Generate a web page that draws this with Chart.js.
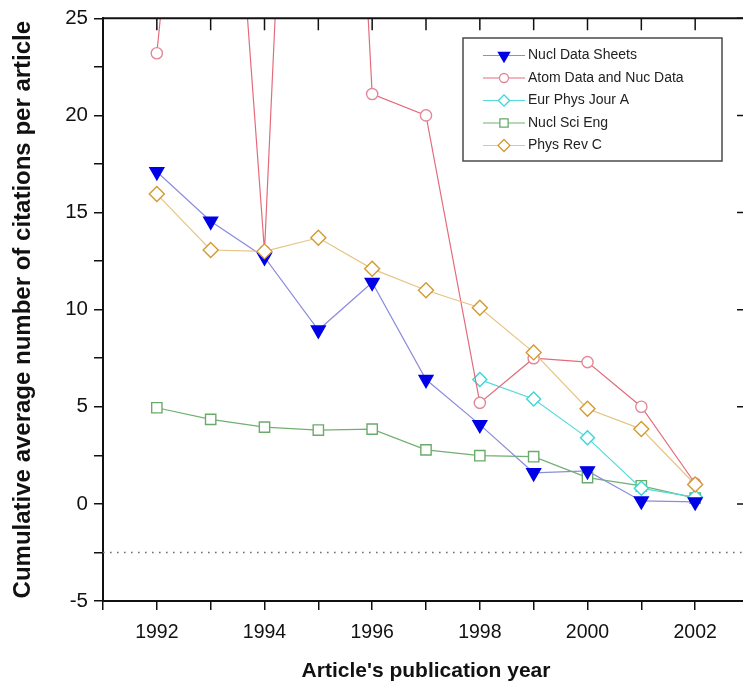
<!DOCTYPE html>
<html>
<head>
<meta charset="utf-8">
<script src="https://cdn.jsdelivr.net/npm/chart.js@4.4.1/dist/chart.umd.min.js"></script>
<style>
  html, body { margin: 0; padding: 0; background: #fff; overflow: hidden; }
  #wrap { width: 760px; height: 686px; position: relative; }
</style>
</head>
<body>
<div id="wrap"><canvas id="citeChart"></canvas></div>
<script>
// values
const years = [1992, 1993, 1994, 1995, 1996, 1997, 1998, 1999, 2000, 2001, 2002];
const nuclDataSheets = [17.1, 14.55, 12.7, 8.95, 11.4, 6.4, 4.08, 1.6, 1.7, 0.15, 0.1];
const atomDataNucData = [23.2, 51, 13.0, 74, 21.1, 20.0, 5.2, 7.5, 7.3, 5.0, 1.05];
const eurPhysJourA = [null, null, null, null, null, null, 6.4, 5.4, 3.4, 0.8, 0.35];
const nuclSciEng = [4.95, 4.35, 3.95, 3.8, 3.85, 2.78, 2.48, 2.43, 1.35, 0.93, 0.3];
const physRevC = [15.95, 13.07, 13.0, 13.7, 12.1, 11.0, 10.1, 7.8, 4.9, 3.85, 1.0];
const seriesNames = ['Nucl Data Sheets', 'Atom Data and Nuc Data', 'Eur Phys Jour A', 'Nucl Sci Eng', 'Phys Rev C'];

const xTickYears = [1991, 1992, 1993, 1994, 1995, 1996, 1997, 1998, 1999, 2000, 2001, 2002, 2003];
const xLabelYears = [1992, 1994, 1996, 1998, 2000, 2002];
const yTickValues = [-5, -2.5, 0, 2.5, 5, 7.5, 10, 12.5, 15, 17.5, 20, 22.5, 25];
const yLabelValues = [-5, 0, 5, 10, 15, 20, 25];
const refLineValue = -2.5;

const FONT = "'Liberation Sans', Arial, sans-serif";

const looks = [
    { line: '#8c8cdc', point: '#0000e6', fill: '#0000e6', style: 'triangle', rot: 180, r: 8 },
    { line: '#e36c7c', point: '#e08898', fill: '#ffffff', style: 'circle', rot: 0, r: 5.6 },
    { line: '#55dada', point: '#3cd6d6', fill: '#ffffff', style: 'rectRot', rot: 0, r: 7 },
    { line: '#70b070', point: '#6aaa6a', fill: '#ffffff', style: 'rect', rot: 0, r: 7.3 },
    { line: '#e6c485', point: '#d49a30', fill: '#ffffff', style: 'rectRot', rot: 0, r: 7.5 }
];

const allSeries = [nuclDataSheets, atomDataNucData, eurPhysJourA, nuclSciEng, physRevC];

const datasets = allSeries.map((vals, i) => ({
    label: seriesNames[i],
    data: years.map((yr, j) => ({ x: yr, y: vals[j] })),
    borderColor: looks[i].line,
    borderWidth: 1.2,
    pointStyle: looks[i].style,
    pointRotation: looks[i].rot,
    pointRadius: looks[i].r,
    pointBorderColor: looks[i].point,
    pointBackgroundColor: looks[i].fill,
    pointBorderWidth: 1.4,
    order: i === 4 ? -1 : 0,
    tension: 0
}));

// dotted reference line
datasets.push({
    label: 'ref',
    data: [{ x: xTickYears[0], y: refLineValue }, { x: xTickYears[xTickYears.length - 1], y: refLineValue }],
    borderColor: '#6e6e6e',
    borderWidth: 1.6,
    borderDash: [1.6, 5.4],
    pointRadius: 0,
    order: 5
});

// top / right frame with inward ticks
const framePlugin = {
    id: 'frame',
    afterDraw(chart) {
        const { ctx, chartArea: a, scales } = chart;
        ctx.save();
        ctx.strokeStyle = '#111';
        ctx.lineWidth = 2;
        ctx.beginPath();
        ctx.moveTo(a.left, a.top);
        ctx.lineTo(a.right, a.top);
        ctx.lineTo(a.right, a.bottom);
        ctx.stroke();
        ctx.lineWidth = 1.5;
        ctx.beginPath();
        xTickYears.forEach(v => {
            const px = scales.x.getPixelForValue(v);
            ctx.moveTo(px, a.top);
            ctx.lineTo(px, a.top + 12);
        });
        yLabelValues.forEach(v => {
            const py = scales.y.getPixelForValue(v);
            ctx.moveTo(a.right, py);
            ctx.lineTo(a.right - 12, py);
        });
        ctx.stroke();
        ctx.restore();
    }
};

const legendPlugin = {
    id: 'boxLegend',
    afterDraw(chart) {
        const { ctx } = chart;
        const box = { left: 463, top: 38, right: 722, bottom: 161 };
        ctx.save();
        ctx.fillStyle = '#fff';
        ctx.fillRect(box.left, box.top, box.right - box.left, box.bottom - box.top);
        ctx.strokeStyle = '#4a4a4a';
        ctx.lineWidth = 1.5;
        ctx.strokeRect(box.left, box.top, box.right - box.left, box.bottom - box.top);
        seriesNames.forEach((name, i) => {
            const ds = chart.data.datasets[i];
            const y = 55.5 + i * 22.5;
            ctx.strokeStyle = ds.borderColor;
            ctx.lineWidth = 1.2;
            ctx.beginPath();
            ctx.moveTo(483, y);
            ctx.lineTo(525, y);
            ctx.stroke();
            ctx.strokeStyle = ds.pointBorderColor;
            ctx.fillStyle = ds.pointBackgroundColor;
            ctx.lineWidth = 1.3;
            Chart.helpers.drawPoint(ctx, {
                pointStyle: ds.pointStyle,
                radius: ds.pointRadius * 0.8,
                rotation: ds.pointRotation,
                borderWidth: 1.3
            }, 504, y);
            ctx.fillStyle = '#222';
            ctx.font = '14px ' + FONT;
            ctx.textAlign = 'left';
            ctx.textBaseline = 'middle';
            ctx.fillText(name, 528, y);
        });
        ctx.restore();
    }
};

const titlePlugin = {
    id: 'axisTitles',
    afterDraw(chart) {
        const { ctx, chartArea: a } = chart;
        ctx.save();
        ctx.fillStyle = '#111';
        ctx.textAlign = 'center';
        ctx.textBaseline = 'middle';
        ctx.font = 'bold 21px ' + FONT;
        ctx.fillText("Article's publication year", (a.left + a.right) / 2, 671);
        ctx.translate(23, (a.top + a.bottom) / 2);
        ctx.rotate(-Math.PI / 2);
        ctx.font = 'bold 24px ' + FONT;
        ctx.fillText('Cumulative average number of citations per article', 0, 0);
        ctx.restore();
    }
};

new Chart(document.getElementById('citeChart').getContext('2d'), {
    type: 'line',
    data: { datasets },
    options: {
        responsive: true,
        maintainAspectRatio: false,
        animation: false,
        layout: { padding: { top: 18, right: 11, left: 0, bottom: 0 } },
        plugins: {
            legend: { display: false },
            tooltip: { enabled: false }
        },
        scales: {
            x: {
                type: 'linear',
                min: xTickYears[0],
                max: xTickYears[xTickYears.length - 1],
                afterBuildTicks: s => { s.ticks = xTickYears.map(v => ({ value: v })); },
                afterFit: s => { s.height = 85; },
                ticks: {
                    autoSkip: false,
                    maxRotation: 0,
                    padding: 11,
                    color: '#111',
                    font: { family: FONT, size: 19.5 },
                    callback: v => xLabelYears.includes(v) ? String(v) : ''
                },
                grid: { drawOnChartArea: false, tickLength: 9, color: '#111', lineWidth: 1.5 },
                border: { color: '#111', width: 2 }
            },
            y: {
                min: yTickValues[0],
                max: yTickValues[yTickValues.length - 1],
                afterBuildTicks: s => { s.ticks = yTickValues.map(v => ({ value: v })); },
                afterFit: s => { s.width = 103; },
                ticks: {
                    autoSkip: false,
                    padding: 6,
                    color: '#111',
                    font: { family: FONT, size: 20.5 },
                    callback: v => yLabelValues.includes(v) ? String(v) : ''
                },
                grid: { drawOnChartArea: false, tickLength: 9, color: '#111', lineWidth: 1.5 },
                border: { color: '#111', width: 2 }
            }
        }
    },
    plugins: [framePlugin, legendPlugin, titlePlugin]
});
</script>
</body>
</html>
